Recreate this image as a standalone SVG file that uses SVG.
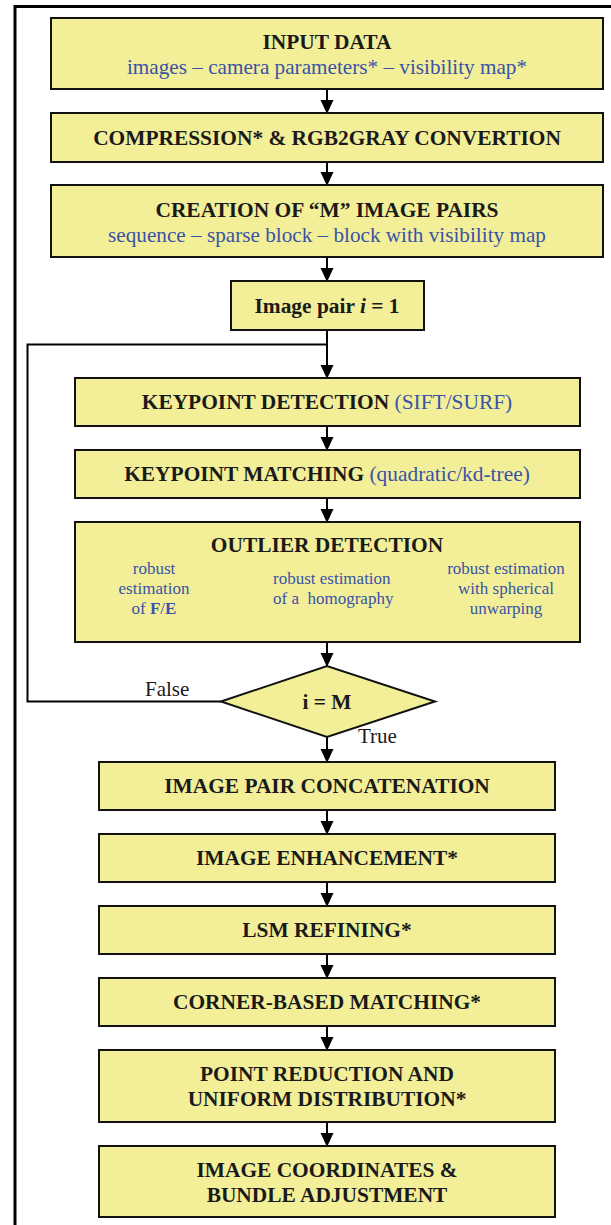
<svg xmlns="http://www.w3.org/2000/svg" width="611" height="1225" viewBox="0 0 611 1225">
<style>
.box{fill:#f2ef98;stroke:#111;stroke-width:2}
.t{font-family:"Liberation Serif","Times New Roman",serif;font-size:21.4px;font-weight:bold;fill:#1a1a1a;text-anchor:middle}
.s{font-family:"Liberation Serif","Times New Roman",serif;font-size:21.2px;fill:#3a52a8;text-anchor:middle}
.b{font-family:"Liberation Serif","Times New Roman",serif;font-size:17px;fill:#3a52a8;text-anchor:middle}
.bs{font-family:"Liberation Serif","Times New Roman",serif;font-size:17px;fill:#3a52a8;text-anchor:start}
.l{font-family:"Liberation Serif","Times New Roman",serif;font-size:21px;fill:#1a1a1a}
.c{fill:none;stroke:#000;stroke-width:2}
</style>
<defs>
<marker id="ah" markerWidth="14" markerHeight="15" refX="14" refY="7" orient="auto" markerUnits="userSpaceOnUse" viewBox="0 0 15 14">
<path d="M0,0 L15,7 L0,14 Z" fill="#000"/>
</marker>
</defs>
<rect width="611" height="1225" fill="#fff"/>
<path d="M15,1225 V6.5 H611" fill="none" stroke="#000" stroke-width="3"/>
<g id="connectors">
<line class="c" x1="327" y1="89" x2="327" y2="113" marker-end="url(#ah)"/>
<line class="c" x1="327" y1="162" x2="327" y2="185" marker-end="url(#ah)"/>
<line class="c" x1="327" y1="257" x2="327" y2="281" marker-end="url(#ah)"/>
<line class="c" x1="327" y1="330" x2="327" y2="378" marker-end="url(#ah)"/>
<path class="c" d="M221,701.5 H27.5 V344.5 H327"/>
<line class="c" x1="327" y1="426" x2="327" y2="450" marker-end="url(#ah)"/>
<line class="c" x1="327" y1="498" x2="327" y2="522" marker-end="url(#ah)"/>
<line class="c" x1="327" y1="642" x2="327" y2="666" marker-end="url(#ah)"/>
<line class="c" x1="327" y1="737" x2="327" y2="762" marker-end="url(#ah)"/>
<line class="c" x1="327" y1="810" x2="327" y2="834" marker-end="url(#ah)"/>
<line class="c" x1="327" y1="882" x2="327" y2="906" marker-end="url(#ah)"/>
<line class="c" x1="327" y1="954" x2="327" y2="978" marker-end="url(#ah)"/>
<line class="c" x1="327" y1="1026" x2="327" y2="1050" marker-end="url(#ah)"/>
<line class="c" x1="327" y1="1122" x2="327" y2="1146" marker-end="url(#ah)"/>
<text class="l" x="145" y="696">False</text>
<text class="l" x="358" y="743">True</text>
</g>
<g id="input">
<rect class="box" x="51" y="18" width="552" height="71"/>
<text class="t" x="327" y="49">INPUT DATA</text>
<text class="s" x="327" y="74">images – camera parameters* – visibility map*</text>
</g>
<g id="compression">
<rect class="box" x="51" y="113" width="552" height="49"/>
<text class="t" x="327" y="145">COMPRESSION* &amp; RGB2GRAY CONVERTION</text>
</g>
<g id="creation">
<rect class="box" x="51" y="185" width="552" height="72"/>
<text class="t" x="327" y="217">CREATION OF “M” IMAGE PAIRS</text>
<text class="s" x="327" y="242">sequence – sparse block – block with visibility map</text>
</g>
<g id="pair">
<rect class="box" x="231" y="281" width="193" height="49"/>
<text class="t" x="327" y="313">Image pair <tspan font-style="italic">i</tspan> = 1</text>
</g>
<g id="kdetect">
<rect class="box" x="75" y="378" width="505" height="48"/>
<text class="t" x="327" y="409">KEYPOINT DETECTION <tspan font-weight="normal" fill="#3a52a8">(SIFT/SURF)</tspan></text>
</g>
<g id="kmatch">
<rect class="box" x="75" y="450" width="505" height="48"/>
<text class="t" x="327" y="481">KEYPOINT MATCHING <tspan font-weight="normal" fill="#3a52a8">(quadratic/kd-tree)</tspan></text>
</g>
<g id="outlier">
<rect class="box" x="75" y="522" width="505" height="120"/>
<text class="t" x="327" y="552">OUTLIER DETECTION</text>
<text class="b" x="154" y="574">robust</text>
<text class="b" x="154" y="594">estimation</text>
<text class="b" x="154" y="614">of <tspan font-weight="bold">F</tspan>/<tspan font-weight="bold">E</tspan></text>
<text class="bs" x="273" y="584">robust estimation</text>
<text class="bs" x="273" y="604">of a &#160;homography</text>
<text class="b" x="506" y="574">robust estimation</text>
<text class="b" x="506" y="594">with spherical</text>
<text class="b" x="506" y="614">unwarping</text>
</g>
<g id="decision">
<polygon class="box" points="221,701.5 327,666 435,701.5 327,737"/>
<text class="t" x="327" y="709">i = M</text>
</g>
<g id="concat">
<rect class="box" x="99" y="762" width="456" height="48"/>
<text class="t" x="327" y="793">IMAGE PAIR CONCATENATION</text>
</g>
<g id="enhance">
<rect class="box" x="99" y="834" width="456" height="48"/>
<text class="t" x="327" y="865">IMAGE ENHANCEMENT*</text>
</g>
<g id="lsm">
<rect class="box" x="99" y="906" width="456" height="48"/>
<text class="t" x="327" y="937">LSM REFINING*</text>
</g>
<g id="corner">
<rect class="box" x="99" y="978" width="456" height="48"/>
<text class="t" x="327" y="1009">CORNER-BASED MATCHING*</text>
</g>
<g id="reduction">
<rect class="box" x="99" y="1050" width="456" height="72"/>
<text class="t" x="327" y="1081">POINT REDUCTION AND</text>
<text class="t" x="327" y="1106">UNIFORM DISTRIBUTION*</text>
</g>
<g id="bundle">
<rect class="box" x="99" y="1146" width="456" height="71"/>
<text class="t" x="327" y="1177">IMAGE COORDINATES &amp;</text>
<text class="t" x="327" y="1202">BUNDLE ADJUSTMENT</text>
</g>
</svg>
